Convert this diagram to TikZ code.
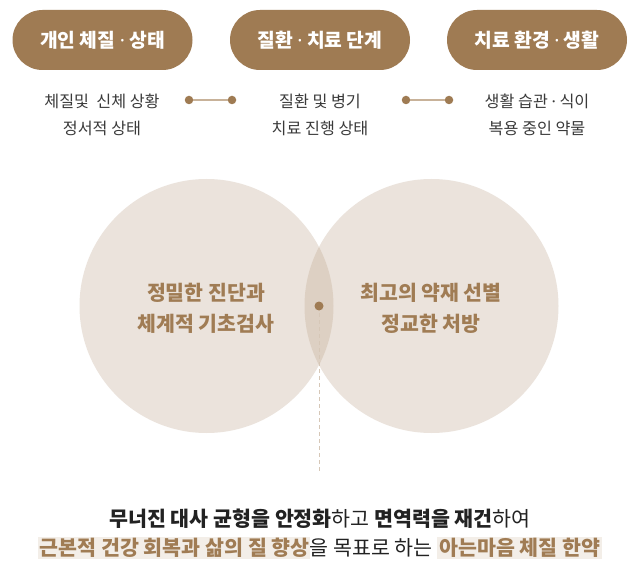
\documentclass[tikz,border=0pt]{standalone}
\usepackage{fontspec}
\setmainfont{Noto Sans CJK KR}
\newfontfamily\dotfont{Noto Sans}
\newcommand\md{{\dotfont ·}}
\definecolor{brown}{HTML}{9F7B53}
\definecolor{circfill}{HTML}{EBE3DC}
\definecolor{lensfill}{HTML}{DDD0C3}
\definecolor{ctext}{HTML}{A07C54}
\definecolor{linkc}{HTML}{C8B299}
\definecolor{subtext}{HTML}{3A3A3A}
\definecolor{hlc}{HTML}{F3EEE8}
\definecolor{dashc}{HTML}{D6C7B7}
\definecolor{maintext}{HTML}{222222}
\newcommand\hlbox[2]{{\setlength{\fboxsep}{0pt}\colorbox{hlc}{\rule[-3.5pt]{0pt}{21.5pt}\hspace{2pt}#1\hspace{#2}}}}
\tikzset{
  pill/.style={fill=brown, text=white, rounded corners=30pt, minimum width=180pt, minimum height=60pt, inner sep=0pt, font=\fontsize{19.3}{23}\selectfont\bfseries},
  subtxt/.style={text=subtext, align=center, inner sep=0pt, font=\fontsize{16.2}{27}\selectfont},
  dotnode/.style={circle, fill=brown, inner sep=0pt, minimum size=8.5pt},
  link/.style={draw=linkc, line width=1.5pt},
  circtxt/.style={text=ctext, align=center, inner sep=0pt, font=\fontsize{20.5}{31}\selectfont\bfseries},
  bottxt/.style={text=maintext, inner sep=0pt, font=\fontsize{20.6}{29}\selectfont},
}
\begin{document}
\begin{tikzpicture}[x=1pt,y=-1pt]
\useasboundingbox[fill=white] (0,0) rectangle (638,575);
% pills
\node[pill] (p1) at (102.5,40) {개인 체질 \md{} 상태};
\node[pill] (p2) at (320,40) {질환 \md{} 치료 단계};
\node[pill] (p3) at (537,40) {치료 환경 \md{} 생활};
% sub texts
\node[subtxt] (s1) at (102,114.5) {체질및\ \ 신체 상황\\정서적 상태};
\node[subtxt] (s2) at (320,114.5) {질환 및 병기\\치료 진행 상태};
\node[subtxt] (s3) at (537,114.5) {생활 습관 \md{} 식이\\복용 중인 약물};
% connectors
\node[dotnode] (d1) at (189,100) {};
\node[dotnode] (d2) at (232,100) {};
\node[dotnode] (d3) at (406,100) {};
\node[dotnode] (d4) at (449,100) {};
\draw[link] (d1) -- (d2);
\draw[link] (d3) -- (d4);
% circles
\node[circle, fill=circfill, minimum size=254pt, inner sep=0pt] (cl) at (206.5,306) {};
\node[circle, fill=circfill, minimum size=254pt, inner sep=0pt] (cr) at (431.5,306) {};
\begin{scope}
\clip (206.5,306) circle (127pt);
\fill[lensfill] (431.5,306) circle (127pt);
\end{scope}
\node[circtxt] (tl) at (206,308) {정밀한 진단과\\체계적 기초검사};
\node[circtxt] (tr) at (431,308) {최고의 약재 선별\\정교한 처방};
% center dot and dashed line
\coordinate (dend) at (319,472);
\draw[dashc, line width=1pt, dash pattern=on 4pt off 3pt] (319,306) -- (dend);
\node[circle, fill=brown, inner sep=0pt, minimum size=9pt] (cdot) at (319,306) {};
% bottom text
\node[bottxt] (b1) at (320,519) {\textbf{무너진 대사 균형을 안정화}하고 \textbf{면역력을 재건}하여};
\node[bottxt] (b2) at (320,548) {\hlbox{\textcolor{ctext}{\bfseries 근본적 건강 회복과 삶의 질 향상}}{0pt}을 목표로 하는 \hlbox{\textcolor{ctext}{\bfseries 아는마음 체질 한약}}{2pt}};
\end{tikzpicture}
\end{document}
